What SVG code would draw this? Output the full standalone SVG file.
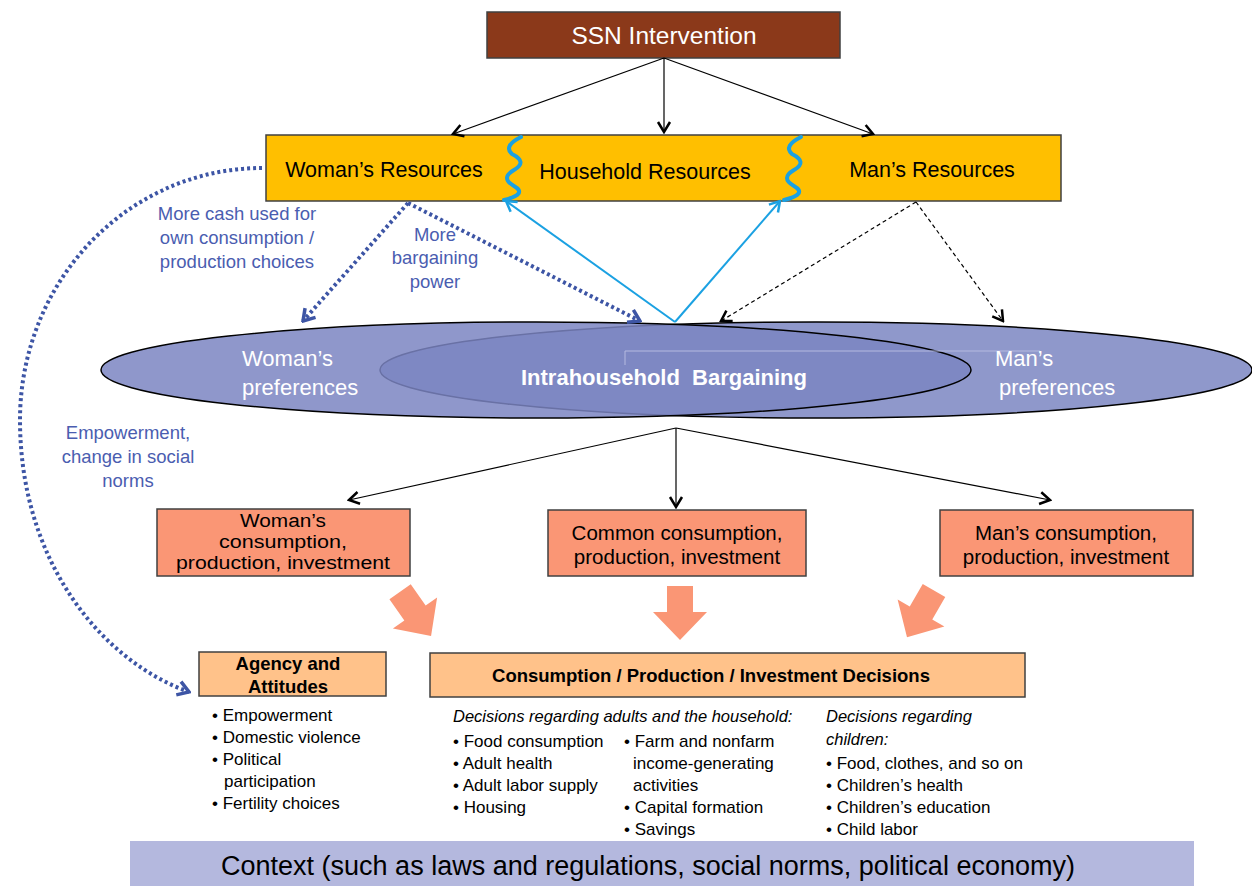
<svg xmlns="http://www.w3.org/2000/svg" width="1252" height="886" viewBox="0 0 1252 886">
<style>
text{font-family:"Liberation Sans",Arial,sans-serif;}
.box{stroke:#404040;stroke-width:1.5;}
.blk{stroke:#000;stroke-width:1.2;fill:none;}
.dash{stroke:#000;stroke-width:1.2;fill:none;stroke-dasharray:4 3;}
.dot{stroke:#3D55A5;stroke-width:4;fill:none;stroke-dasharray:3 3;}
.cyan{stroke:#1BA1E2;stroke-width:2;fill:none;}
.wave{stroke:#1BA1E2;stroke-width:4;fill:none;stroke-linecap:round;}
.lbl{fill:#4A5DB0;font-size:18.5px;text-anchor:middle;}
.nt{fill:#000;font-size:21.5px;text-anchor:middle;}
.ct{fill:#000;font-size:20.5px;text-anchor:middle;}
.cs{fill:#000;font-size:18px;text-anchor:middle;}
.wt{fill:#fff;font-size:22px;}
.bt{fill:#000;font-size:17px;}
.it{fill:#000;font-size:16.5px;font-style:italic;}
.hd{fill:#000;font-size:18.5px;font-weight:bold;text-anchor:middle;}
.big{fill:#FA9675;}
</style>
<defs>
<marker id="ah" viewBox="-13 -8 15 16" refX="0" refY="0" markerWidth="15" markerHeight="16" markerUnits="userSpaceOnUse" orient="auto"><path d="M-10,-6 L0,0 L-10,6" fill="none" stroke="#000" stroke-width="2.5"/></marker>
<marker id="ahb" viewBox="-14 -9 16 18" refX="0" refY="0" markerWidth="16" markerHeight="18" markerUnits="userSpaceOnUse" orient="auto"><path d="M-11,-7 L0,0 L-11,7" fill="none" stroke="#3D55A5" stroke-width="3.5"/></marker>
<marker id="ahc" viewBox="-13 -8 15 16" refX="0" refY="0" markerWidth="15" markerHeight="16" markerUnits="userSpaceOnUse" orient="auto"><path d="M-10,-6 L0,0 L-10,6" fill="none" stroke="#1BA1E2" stroke-width="2.5"/></marker>
<path id="barr" d="M-13,-26 L13,-26 L13,0 L27,0 L0,28 L-27,0 L-13,0 Z"/>
</defs>

<g id="ssn">
<rect class="box" x="487" y="12" width="353" height="46" fill="#8B391A"/>
<text x="664" y="44" fill="#fff" font-size="24.5" text-anchor="middle">SSN Intervention</text>
</g>

<g id="resources">
<rect class="box" x="266" y="135" width="795" height="66" fill="#FFBF00"/>
<text class="nt" x="384" y="177">Woman’s Resources</text>
<text class="nt" x="645" y="179">Household Resources</text>
<text class="nt" x="932" y="177">Man’s Resources</text>
<path class="wave" d="M521,137 Q503,146 512,154 Q528,162 514,170 Q500,178 514,186 Q528,194 504,200"/>
<path class="wave" d="M801,137 Q783,146 792,154 Q808,162 794,170 Q780,178 794,186 Q808,194 784,200"/>
</g>

<g id="preferences">
<ellipse cx="816" cy="370" rx="436" ry="48" fill="#8F98CB" stroke="#000" stroke-width="1.5"/>
<ellipse cx="536" cy="370" rx="435" ry="48" fill="rgb(123,133,194)" fill-opacity="0.85" stroke="#000" stroke-width="1.5"/>
<path d="M625,365 L625,351 L1040,351" fill="none" stroke="#B5BAE0" stroke-width="1"/>
<text class="wt" x="242" y="366">Woman’s</text>
<text class="wt" x="242" y="395">preferences</text>
<text class="wt" x="995" y="366">Man’s</text>
<text class="wt" x="999" y="395">preferences</text>
<text x="664" y="385" fill="#fff" font-size="22" font-weight="bold" text-anchor="middle" style="white-space:pre">Intrahousehold  Bargaining</text>
</g>

<g id="outcomes">
<rect class="box" x="157" y="509" width="253" height="67" fill="#FA9675"/>
<text class="cs" x="283" y="527" textLength="86" lengthAdjust="spacingAndGlyphs">Woman’s</text>
<text class="cs" x="283" y="548" textLength="128" lengthAdjust="spacingAndGlyphs">consumption,</text>
<text class="cs" x="283" y="569" textLength="214" lengthAdjust="spacingAndGlyphs">production, investment</text>
<rect class="box" x="548" y="510" width="258" height="66" fill="#FA9675"/>
<text class="ct" x="677" y="540">Common consumption,</text>
<text class="ct" x="677" y="564">production, investment</text>
<rect class="box" x="940" y="510" width="253" height="66" fill="#FA9675"/>
<text class="ct" x="1066" y="540">Man’s consumption,</text>
<text class="ct" x="1066" y="564">production, investment</text>
</g>

<g id="block-arrows">
<use href="#barr" class="big" transform="translate(415,613) rotate(-35)"/>
<use href="#barr" class="big" transform="translate(680,612)"/>
<use href="#barr" class="big" transform="translate(921,613) rotate(30)"/>
</g>

<g id="agency">
<rect class="box" x="199" y="652" width="187" height="44" fill="#FFC28A"/>
<text class="hd" x="288" y="670">Agency and</text>
<text class="hd" x="288" y="693">Attitudes</text>
<text class="bt" x="212" y="721">• Empowerment</text>
<text class="bt" x="212" y="743">• Domestic violence</text>
<text class="bt" x="212" y="765">• Political</text>
<text class="bt" x="224" y="787">participation</text>
<text class="bt" x="212" y="809">• Fertility choices</text>
</g>

<g id="decisions">
<rect class="box" x="430" y="653" width="595" height="44" fill="#FFC28A"/>
<text class="hd" x="711" y="682">Consumption / Production / Investment Decisions</text>
<text class="it" x="453" y="722">Decisions regarding adults and the household:</text>
<text class="bt" x="453" y="747">• Food consumption</text>
<text class="bt" x="453" y="769">• Adult health</text>
<text class="bt" x="453" y="791">• Adult labor supply</text>
<text class="bt" x="453" y="813">• Housing</text>
<text class="bt" x="624" y="747">• Farm and nonfarm</text>
<text class="bt" x="633" y="769">income-generating</text>
<text class="bt" x="633" y="791">activities</text>
<text class="bt" x="624" y="813">• Capital formation</text>
<text class="bt" x="624" y="835">• Savings</text>
<text class="it" x="826" y="722">Decisions regarding</text>
<text class="it" x="826" y="745">children:</text>
<text class="bt" x="826" y="769">• Food, clothes, and so on</text>
<text class="bt" x="826" y="791">• Children’s health</text>
<text class="bt" x="826" y="813">• Children’s education</text>
<text class="bt" x="826" y="835">• Child labor</text>
</g>

<g id="context">
<rect x="130" y="841" width="1064" height="45" fill="#B4B8DE"/>
<text x="648" y="875" fill="#000" font-size="27" text-anchor="middle">Context (such as laws and regulations, social norms, political economy)</text>
</g>

<g id="connectors">
<line class="blk" x1="664" y1="58" x2="453" y2="134" marker-end="url(#ah)"/>
<line class="blk" x1="664" y1="58" x2="664" y2="132" marker-end="url(#ah)"/>
<line class="blk" x1="664" y1="58" x2="873" y2="134" marker-end="url(#ah)"/>
<line class="cyan" x1="675" y1="322" x2="506" y2="201" marker-end="url(#ahc)"/>
<line class="cyan" x1="675" y1="322" x2="780" y2="201" marker-end="url(#ahc)"/>
<line class="dash" x1="916" y1="202" x2="721" y2="321" marker-end="url(#ah)"/>
<line class="dash" x1="916" y1="202" x2="1003" y2="321" marker-end="url(#ah)"/>
<line class="dot" x1="408" y1="203" x2="303" y2="321" marker-end="url(#ahb)"/>
<line class="dot" x1="408" y1="203" x2="640" y2="321" marker-end="url(#ahb)"/>
<path class="dot" d="M262,168 A242,252 0 0 0 20,420 C20,560 100,660 189,692" marker-end="url(#ahb)"/>
<line class="blk" x1="676" y1="428" x2="349" y2="500" marker-end="url(#ah)"/>
<line class="blk" x1="676" y1="428" x2="676" y2="507" marker-end="url(#ah)"/>
<line class="blk" x1="676" y1="428" x2="1050" y2="500" marker-end="url(#ah)"/>
<text class="lbl" x="237" y="220">More cash used for</text>
<text class="lbl" x="237" y="244">own consumption /</text>
<text class="lbl" x="237" y="268">production choices</text>
<text class="lbl" x="435" y="241">More</text>
<text class="lbl" x="435" y="264">bargaining</text>
<text class="lbl" x="435" y="288">power</text>
<text class="lbl" x="128" y="439">Empowerment,</text>
<text class="lbl" x="128" y="463">change in social</text>
<text class="lbl" x="128" y="487">norms</text>
</g>
</svg>
